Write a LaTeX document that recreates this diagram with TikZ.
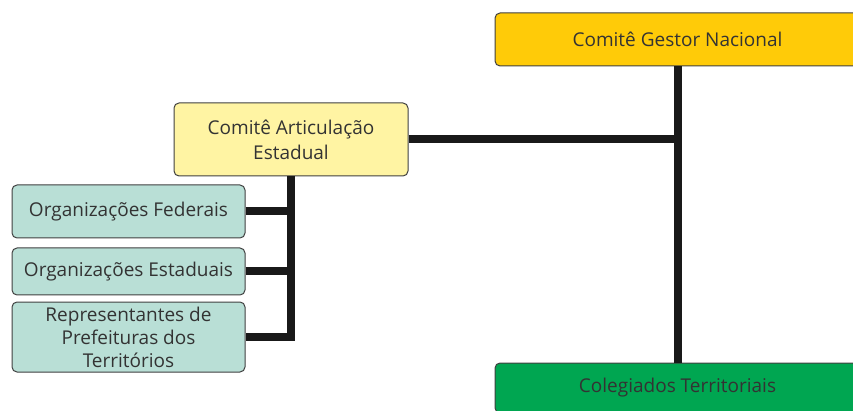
\documentclass[tikz,border=0pt]{standalone}
\usepackage{fontspec}
\setmainfont{Open Sans}
\definecolor{gestor}{HTML}{FFCB08}
\definecolor{artic}{HTML}{FFF4A3}
\definecolor{orgs}{HTML}{B9DFD6}
\definecolor{coleg}{HTML}{00A651}
\tikzset{
  box/.style={draw=black!75, line width=1pt, rounded corners=5pt, text=black!80,
    align=center, inner sep=0pt, font=\fontsize{19}{25}\selectfont},
  link/.style={line width=8pt, black!90}
}
\begin{document}
\begin{tikzpicture}[x=1pt,y=-1pt]
\useasboundingbox (0,0) rectangle (853,411);
\node[box, fill=gestor, minimum width=365pt, minimum height=53pt] (gestor) at (677.5,39.5) {Comitê Gestor Nacional};
\node[box, fill=artic, minimum width=234pt, minimum height=73pt] (artic) at (291,139.5) {Comitê Articulação\\Estadual};
\node[box, fill=orgs, minimum width=233pt, minimum height=53pt] (fed) at (128.5,211.5) {Organizações Federais};
\node[box, fill=orgs, minimum width=233pt, minimum height=47pt] (est) at (128.5,271.5) {Organizações Estaduais};
\node[box, fill=orgs, minimum width=233pt, minimum height=70pt, font=\fontsize{19}{23}\selectfont] (rep) at (128.5,337) {Representantes de\\Prefeituras dos\\Territórios};
\node[box, fill=coleg, minimum width=365pt, minimum height=50pt] (coleg) at (677.5,388) {Colegiados Territoriais};
% ligações
\draw[link] (gestor.south) -- (coleg.north);
\draw[link] (artic.east) -- (artic.east -| gestor.south);
\draw[link] (artic.south) -- (artic.south |- rep.east) -- (rep.east);
\foreach \n in {fed,est} \draw[link] (\n.east) -- (\n.east -| artic.south);
\end{tikzpicture}
\end{document}
